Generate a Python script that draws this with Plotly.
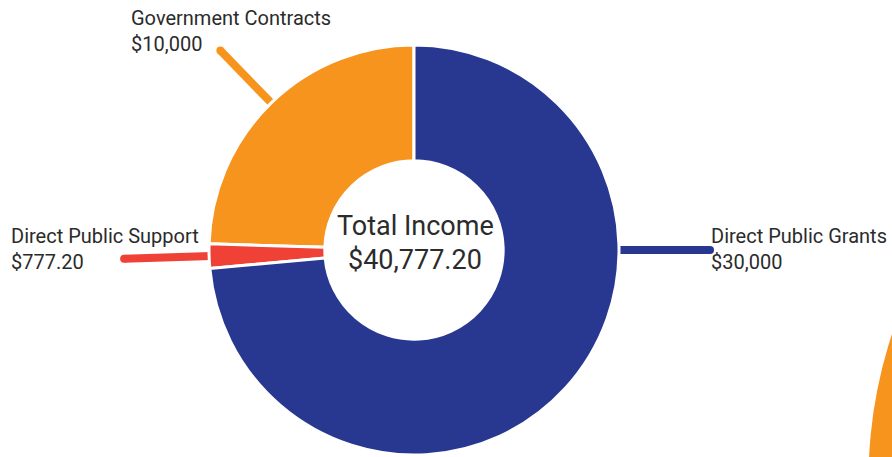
import math
import plotly.graph_objects as go

# ---- data ----
categories = ["Government Contracts", "Direct Public Support", "Direct Public Grants"]
values = [10000, 777.20, 30000]
value_labels = ["$10,000", "$777.20", "$30,000"]
colors = ["#F7941D", "#EF4136", "#283891"]
center_title = "Total Income"
center_value = "$40,777.20"

W, H = 892, 457
CX, CY, R = 414, 250, 205
HOLE = 0.435
FONT = "Roboto"
TXT = "#2b2b2b"

total = sum(values)
# plotly (counterclockwise) ends the first slice at `rotation`; shift so it starts at 12 o'clock
first_angle = values[0] / total * 360

fig = go.Figure()

fig.add_trace(go.Pie(
    labels=categories, values=values, sort=False, direction="counterclockwise",
    rotation=-first_angle, hole=HOLE, textinfo="none", hoverinfo="label+value",
    marker=dict(colors=colors, line=dict(color="white", width=3)),
    domain=dict(x=[(CX - R) / W, (CX + R) / W], y=[1 - (CY + R) / H, 1 - (CY - R) / H]),
    showlegend=False,
))

# leader lines: angle measured counterclockwise from 12 o'clock
cum = 0
mids = []
for v in values:
    mids.append((cum + v / 2) / total * 360)
    cum += v

def pt(angle_deg, r):
    a = math.radians(angle_deg)
    return CX - r * math.sin(a), CY - r * math.cos(a)

leaders = [
    (mids[0], 278),   # Government Contracts
    (mids[1], 290),   # Direct Public Support
    (270, 296),       # Direct Public Grants -> horizontal to the right
]
for (ang, rend), col in zip(leaders, colors):
    x0, y0 = pt(ang, R - 2)
    x1, y1 = pt(ang, rend)
    fig.add_trace(go.Scatter(x=[x0, x1], y=[y0, y1], mode="lines",
                             line=dict(color=col, width=8), hoverinfo="skip", showlegend=False))
    fig.add_trace(go.Scatter(x=[x1], y=[y1], mode="markers",
                             marker=dict(color=col, size=8, line=dict(width=0)),
                             hoverinfo="skip", showlegend=False))

# labels
label_pos = [(129, 18, 44), (9, 236, 262), (709, 236, 262)]
for (x, y1, y2), name, val in zip(label_pos, categories, value_labels):
    fig.add_annotation(x=x, y=y1, xref="x", yref="y", text=name, showarrow=False,
                       xanchor="left", yanchor="middle", font=dict(family=FONT, size=20, color=TXT))
    fig.add_annotation(x=x, y=y2, xref="x", yref="y", text=val, showarrow=False,
                       xanchor="left", yanchor="middle", font=dict(family=FONT, size=20, color=TXT))

fig.add_annotation(x=CX + 1, y=226, xref="x", yref="y", text=center_title, showarrow=False,
                   xanchor="center", yanchor="middle", font=dict(family=FONT, size=27, color=TXT))
fig.add_annotation(x=CX + 1, y=260, xref="x", yref="y", text=center_value, showarrow=False,
                   xanchor="center", yanchor="middle", font=dict(family=FONT, size=27, color=TXT))

# partial neighbouring chart at bottom-right
fig.add_shape(type="circle", xref="x", yref="y", x0=868.5, x1=868.5 + 2 * 466,
              y0=480 - 466, y1=480 + 466, fillcolor="#F7941D", line=dict(width=0), layer="below")

fig.update_layout(
    width=W, height=H, margin=dict(l=0, r=0, t=0, b=0),
    paper_bgcolor="white", plot_bgcolor="white",
    xaxis=dict(range=[0, W], visible=False, fixedrange=True),
    yaxis=dict(range=[H, 0], visible=False, fixedrange=True),
)

fig.write_html("out.html", config={"displayModeBar": False},
               post_script="document.body.style.margin='0';")
